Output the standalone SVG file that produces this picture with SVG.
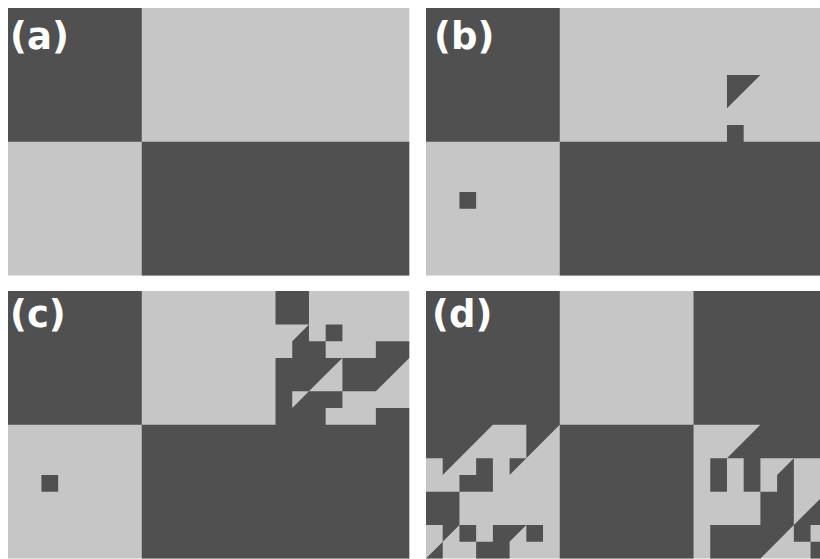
<svg xmlns="http://www.w3.org/2000/svg" width="820" height="559" viewBox="0 0 820 559">
<style>
.lt{fill:#c6c6c6}
.dk{fill:#505050}
.lbl{font-family:"DejaVu Sans","Liberation Sans",sans-serif;font-weight:bold;font-size:37px;fill:#ffffff}
</style>
<rect width="820" height="559" fill="#ffffff"/>
<g id="panel-a" transform="translate(8 8) scale(16.72)">
<rect class="lt" width="24" height="16"/>
<path class="dk" d="M0,0H8V8H0Z M8,8H24V16H8Z"/>
</g>
<g id="panel-b" transform="translate(426 8) scale(16.72)">
<rect class="lt" width="24" height="16"/>
<path class="dk" d="M0,0H8V8H0Z M8,8H24V16H8Z M2,11H3V12H2Z M18,4H20L18,6Z M18,7H19V8H18Z"/>
</g>
<g id="panel-c" transform="translate(8 291) scale(16.72)">
<rect class="lt" width="24" height="16"/>
<path class="dk" d="M0,0H8V8H0Z M8,8H24V16H8Z M2,11H3V12H2Z M16,0H18V2H16Z M19,2H20V3H19Z M18,2L18,3L19,3L19,4L20,4L19,5L18,6L17,6L17,7L18,6L20,6L20,7L19,7L19,8L16,8L16,4L17,4L17,3Z M22,3H24V4L22,6H20V4H22Z M22,7H24V8H22Z"/>
</g>
<g id="panel-d" transform="translate(426 291) scale(16.72)">
<rect class="lt" width="24" height="16"/>
<path class="dk" d="M0,0H8V8H0Z M16,0H24V8H16Z M8,8H16V16H8Z M0,8L4,8L1,11L1,10L0,10Z M6,8L8,8L5,11L5,10L6,10Z M3,10H4V12H2V11H3Z M0,12H2V14L1,15L1,14H0Z M2,14H3V15H2Z M4,14H6L5,15V16H3V15H4Z M6,14H7V15H6Z M1,15V16H0Z M20,8H24V10H20V12H19V10H18Z M17,10H18V12H17Z M22,10V14L20,16H17V14H20V12H21V11Z M24,12V14H23V15H22V14Z M23,15H24V16H23Z"/>
</g>
<g id="labels">
<text class="lbl" x="10" y="49">(a)</text>
<text class="lbl" x="434" y="49">(b)</text>
<text class="lbl" x="10" y="327">(c)</text>
<text class="lbl" x="432" y="327">(d)</text>
</g>
</svg>
